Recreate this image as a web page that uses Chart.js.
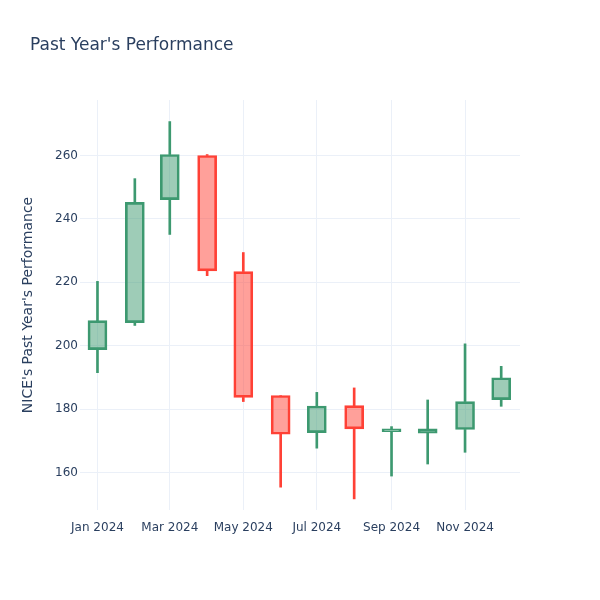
<!DOCTYPE html>
<html>
<head>
<meta charset="utf-8">
<script src="https://cdn.jsdelivr.net/npm/chart.js@4.4.1/dist/chart.umd.min.js"></script>
<style>
  body { margin: 0; background: #fff; }
  #wrap { position: relative; width: 600px; height: 600px; }
  #title { position: absolute; left: 30px; top: 36px; font: 17px "DejaVu Sans", sans-serif; color: #2a3f5f; line-height: 17px; }
  canvas { position: absolute; left: 0; top: 0; }
</style>
</head>
<body>
<div id="wrap">
  <canvas id="chart" width="600" height="600"></canvas>
  <div id="title">Past Year's Performance</div>
</div>
<script>
// days since Jan 1 2024 for each monthly candle
var days = [0, 31, 60, 91, 121, 152, 182, 213, 244, 274, 305, 335];
var open  = [198.8, 207.3, 246.1, 260.0, 223.4, 184.3, 172.6, 181.1, 172.9, 172.4, 173.6, 183.0];
var high  = [220.3, 252.7, 270.7, 260.3, 229.4, 184.3, 185.3, 186.7, 174.5, 182.9, 200.6, 193.5];
var low   = [191.5, 206.4, 235.1, 222.1, 182.4, 155.4, 167.7, 151.7, 158.9, 162.7, 166.4, 180.9];
var close = [207.9, 245.2, 260.3, 223.6, 183.7, 172.1, 181.0, 173.8, 173.8, 173.8, 182.4, 189.9];

var xTickDays = [0, 60, 121, 182, 244, 305];
var xTickLabels = ['Jan 2024', 'Mar 2024', 'May 2024', 'Jul 2024', 'Sep 2024', 'Nov 2024'];
var yTicks = [160, 180, 200, 220, 240, 260];

var UP = '#3D9970', DOWN = '#FF4136';
var UP_FILL = 'rgba(61,153,112,0.5)', DOWN_FILL = 'rgba(255,65,54,0.5)';

function lineColor(i) { return close[i] >= open[i] ? UP : DOWN; }
function fillColor(i) { return close[i] >= open[i] ? UP_FILL : DOWN_FILL; }

// split each candle into a body and two wick pieces so wicks don't show through the body
var bodies = [], upperWicks = [], lowerWicks = [];
days.forEach(function (d, i) {
    var top = Math.max(open[i], close[i]);
    var bot = Math.min(open[i], close[i]);
    bodies.push({x: d, y: [bot, top]});
    upperWicks.push({x: d, y: [top, high[i]]});
    lowerWicks.push({x: d, y: [low[i], bot]});
});
var lineColors = days.map(function (d, i) { return lineColor(i); });
var fillColors = days.map(function (d, i) { return fillColor(i); });

var font = "'DejaVu Sans', sans-serif";

new Chart(document.getElementById('chart'), {
    type: 'bar',
    data: {
        datasets: [
            {data: upperWicks, backgroundColor: lineColors, barThickness: 2, grouped: false, borderWidth: 0},
            {data: lowerWicks, backgroundColor: lineColors, barThickness: 2, grouped: false, borderWidth: 0},
            {data: bodies, backgroundColor: fillColors, borderColor: lineColors, borderWidth: 2,
             borderSkipped: false, barThickness: 19, grouped: false}
        ]
    },
    options: {
        responsive: false,
        animation: false,
        layout: {padding: {left: 16, right: 80, top: 100, bottom: 0}},
        plugins: {legend: {display: false}, tooltip: {enabled: false}},
        scales: {
            x: {
                type: 'linear',
                offset: false,
                min: -14.5,
                max: 350.6,
                grid: {color: '#ebf0f8', drawTicks: false, offset: false},
                border: {display: false},
                afterBuildTicks: function (scale) {
                    scale.ticks = xTickDays.map(function (v) { return {value: v}; });
                },
                afterFit: function (scale) { scale.height = 90; },
                ticks: {
                    autoSkip: false,
                    maxRotation: 0,
                    padding: 11,
                    color: '#2a3f5f',
                    font: {family: font, size: 12},
                    callback: function (v, i) { return xTickLabels[i]; }
                }
            },
            y: {
                min: 148.2,
                max: 277.5,
                grid: {color: '#ebf0f8', drawTicks: false},
                border: {display: false},
                afterBuildTicks: function (scale) {
                    scale.ticks = yTicks.map(function (v) { return {value: v}; });
                },
                afterFit: function (scale) { scale.width = 64; },
                title: {
                    display: true,
                    text: "NICE's Past Year's Performance",
                    color: '#2a3f5f',
                    font: {family: font, size: 14},
                    padding: {top: 4, bottom: 4}
                },
                ticks: {
                    padding: 2,
                    color: '#2a3f5f',
                    font: {family: font, size: 12}
                }
            }
        }
    }
});
</script>
</body>
</html>
